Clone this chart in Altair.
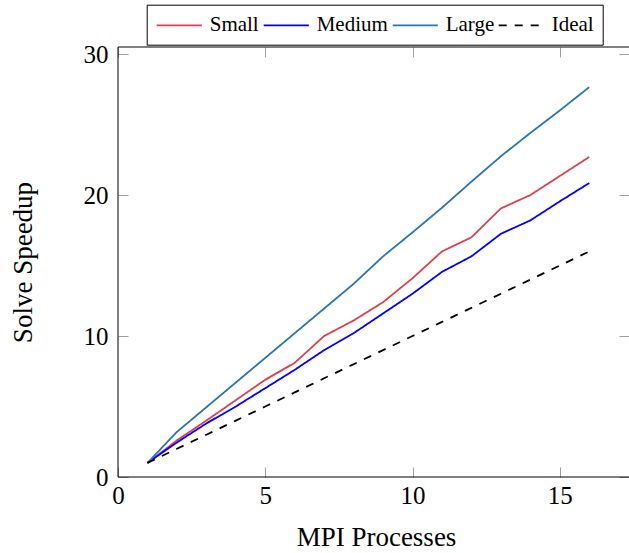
import altair as alt
import pandas as pd

procs = list(range(1, 17))
small = [1, 2.6, 4.0, 5.45, 6.9, 8.1, 10.0, 11.1, 12.4, 14.1, 16.0, 17.0, 19.05, 20.0, 21.35, 22.7]
medium = [1, 2.45, 3.8, 5.0, 6.3, 7.6, 9.0, 10.2, 11.6, 13.0, 14.55, 15.65, 17.25, 18.2, 19.55, 20.85]
large = [1, 3.2, 4.95, 6.7, 8.45, 10.2, 11.95, 13.7, 15.65, 17.35, 19.1, 20.95, 22.75, 24.4, 26.0, 27.65]
ideal = [1, 2, 3, 4, 5, 6, 7, 8, 9, 10, 11, 12, 13, 14, 15, 16]

series_names = ["Small", "Medium", "Large", "Ideal"]
series_colors = ["#d9434f", "#0000ff", "#2a74b2", "#000000"]
series_dash = [[1, 0], [1, 0], [1, 0], [8, 8]]

rows = []
for name, vals in zip(series_names, [small, medium, large, ideal]):
    for p, v in zip(procs, vals):
        rows.append({"series": name, "procs": p, "speedup": v})
df = pd.DataFrame(rows)

W, H = 511, 430
FONT = "Liberation Serif"
TICK = "#a0a0a0"

xscale = alt.Scale(domain=[0, 17.35], nice=False, zero=False)
yscale = alt.Scale(domain=[0, 30.5], nice=False, zero=False)

legend = alt.Legend(title=None, orient="none", legendX=28.7, legendY=-42.3,
                    direction="horizontal", symbolType="M-1,0H3.3",
                    symbolSize=441, symbolStrokeWidth=1.8,
                    labelFont=FONT, labelFontSize=21, labelColor="black",
                    labelOffset=31, columnPadding=0, padding=9,
                    strokeColor="black", fillColor="white", cornerRadius=0)

lines = alt.Chart(df).mark_line(strokeWidth=1.8).encode(
    x=alt.X("procs:Q", scale=xscale, axis=alt.Axis(
        orient="bottom", values=[0, 5, 10, 15], offset=-10, tickSize=10,
        tickColor=TICK, domain=False, grid=False, labelFont=FONT,
        labelFontSize=25, labelColor="black", labelPadding=6, labelFlush=False,
        title="MPI Processes", titleFont=FONT, titleFontSize=27,
        titleFontWeight="normal", titleColor="black",
        titleX=258, titleY=78, titleBaseline="alphabetic", titleAlign="center")),
    y=alt.Y("speedup:Q", scale=yscale, axis=alt.Axis(
        orient="left", values=[0, 10, 20, 30], offset=-10, tickSize=10,
        tickColor=TICK, domain=False, grid=False, labelFont=FONT,
        labelFontSize=25, labelColor="black", labelPadding=10, labelFlush=False,
        title="Solve Speedup", titleFont=FONT, titleFontSize=27,
        titleFontWeight="normal", titleColor="black",
        titleX=-97, titleY=215, titleBaseline="alphabetic", titleAlign="center")),
    color=alt.Color("series:N", scale=alt.Scale(domain=series_names, range=series_colors),
                    legend=legend),
    strokeDash=alt.StrokeDash("series:N", scale=alt.Scale(domain=series_names, range=series_dash),
                              legend=legend),
)

ticks2 = alt.Chart(df).mark_line(opacity=0).encode(
    x=alt.X("procs:Q", scale=xscale, axis=alt.Axis(
        orient="top", values=[0, 5, 10, 15], offset=-10, tickSize=10,
        tickColor=TICK, domain=False, grid=False, labels=False, title=None)),
    y=alt.Y("speedup:Q", scale=yscale, axis=alt.Axis(
        orient="right", values=[0, 10, 20, 30], offset=-10, tickSize=10,
        tickColor=TICK, domain=False, grid=False, labels=False, title=None)),
)

one = pd.DataFrame({"a": [0]})
frame_left = alt.Chart(one).mark_rule(color="black", strokeWidth=1).encode(
    x=alt.value(0), y=alt.value(0), y2=alt.value(H))
frame_top = alt.Chart(one).mark_rule(color="black", strokeWidth=1).encode(
    x=alt.value(0), x2=alt.value(W + 10), y=alt.value(0))
frame_bottom = alt.Chart(one).mark_rule(color="black", strokeWidth=1).encode(
    x=alt.value(0), x2=alt.value(W + 10), y=alt.value(H))

chart = alt.layer(lines, ticks2, frame_left, frame_top, frame_bottom).resolve_axis(
    x="independent", y="independent"
).properties(
    width=W, height=H,
    padding={"left": 118, "top": 47, "right": 0, "bottom": 76},
    autosize=alt.AutoSizeParams(type="none"),
).configure(font=FONT).configure_view(stroke=None).configure_axis(
    labelFont=FONT, titleFont=FONT
).configure_legend(labelFont=FONT)

chart.save("out.html", embed_options={"renderer": "svg", "actions": False})
